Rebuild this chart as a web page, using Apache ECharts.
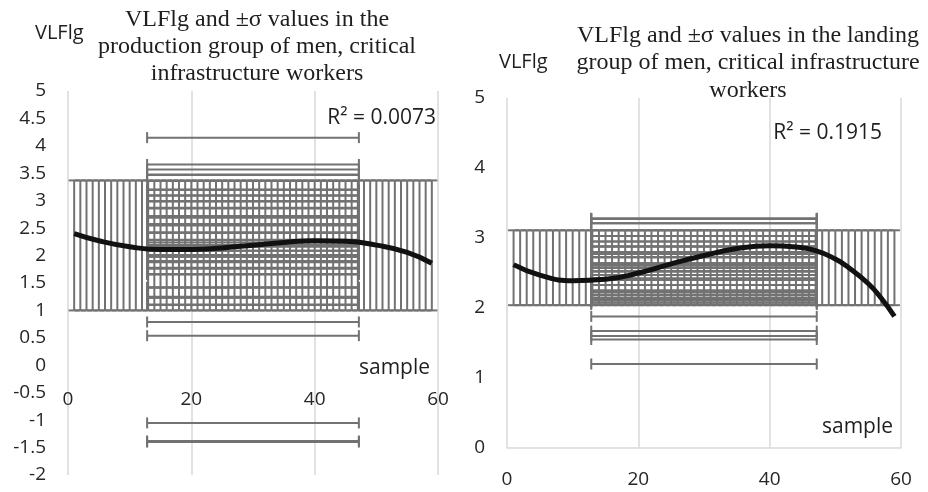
<!DOCTYPE html>
<html>
<head>
<meta charset="utf-8">
<script src="https://cdn.jsdelivr.net/npm/echarts@6/dist/echarts.min.js"></script>
<style>
  html, body { margin: 0; padding: 0; background: #fff; }
  #diogram { width: 928px; height: 492px; }
</style>
</head>
<body>
<div id="diogram"></div>
<script>
// sample numbers (x of every point)
let sampleX = [1, 2, 3, 4, 5, 6, 7, 8, 9, 10, 11, 12, 13, 14, 15, 16, 17, 18, 19, 20,
    21, 22, 23, 24, 25, 26, 27, 28, 29, 30, 31, 32, 33, 34, 35, 36, 37, 38, 39, 40,
    41, 42, 43, 44, 45, 46, 47, 48, 49, 50, 51, 52, 53, 54, 55, 56, 57, 58, 59];

// mean of x and its sigma
let xMean = 30;
let xSigma = 17.17;

// production group
let prodY = [4.15, 3.66, 3.57, 3.48, 3.47, 3.36, 3.20, 3.20, 3.20, 3.10, 3.09, 2.99, 2.99, 2.99,
    2.87, 2.86, 2.72, 2.72, 2.71, 2.69, 2.57, 2.57, 2.57, 2.55, 2.42, 2.42, 2.41, 2.29, 2.28,
    2.24, 2.19, 2.19, 2.19, 2.16, 2.09, 2.09, 2.01, 1.98, 1.98, 1.90, 1.88, 1.78, 1.76, 1.66,
    1.66, 1.66, 1.42, 1.42, 1.42, 1.25, 1.23, 1.23, 1.11, 1.10, 0.79, 0.54, -1.05, -1.38, -1.40];
let prodMean = 2.185;
let prodSigma = 1.185;
let prodTrendX = [1, 5, 10, 15, 20, 25, 30, 35, 40, 45, 50, 55, 59];
let prodTrendY = [2.40, 2.27, 2.16, 2.11, 2.11, 2.14, 2.19, 2.24, 2.27, 2.26, 2.19, 2.06, 1.86];
let prodR2 = 'R² = 0.0073';

// landing group
let landY = [3.28, 3.28, 3.27, 3.21, 3.21, 3.11, 3.03, 3.03, 3.03, 2.95, 2.95, 2.88, 2.88, 2.88,
    2.80, 2.80, 2.79, 2.77, 2.77, 2.73, 2.73, 2.73, 2.72, 2.64, 2.64, 2.61, 2.61, 2.61, 2.58,
    2.57, 2.53, 2.52, 2.52, 2.47, 2.47, 2.47, 2.42, 2.42, 2.40, 2.33, 2.33, 2.33, 2.25, 2.25,
    2.23, 2.19, 2.19, 2.19, 2.15, 2.13, 2.11, 2.08, 2.08, 2.05, 1.88, 1.67, 1.60, 1.55, 1.20];
let landMean = 2.575;
let landSigma = 0.535;
let landTrendX = [1, 5, 10, 15, 20, 25, 30, 35, 40, 44, 47, 50, 52, 55, 57, 59];
let landTrendY = [2.62, 2.47, 2.39, 2.41, 2.50, 2.63, 2.75, 2.85, 2.89, 2.87, 2.82, 2.70, 2.58, 2.35, 2.14, 1.88];
let landR2 = 'R² = 0.1915';

let barColor = '#727272';
let gridColor = '#d9d9d9';
let labelFont = '"Open Sans", sans-serif';
let titleFont = '"Liberation Serif", serif';
let cap = 5.5;

function seg(x1, y1, x2, y2) {
    return {
        type: 'line',
        shape: { x1: x1, y1: y1, x2: x2, y2: y2 },
        style: { stroke: barColor, lineWidth: 2 }
    };
}

// vertical error bar: [x, low, high]
function renderV(params, api) {
    let a = api.coord([api.value(0), api.value(1)]);
    let b = api.coord([api.value(0), api.value(2)]);
    return {
        type: 'group',
        children: [
            seg(a[0], a[1], b[0], b[1]),
            seg(a[0] - cap, a[1], a[0] + cap, a[1]),
            seg(b[0] - cap, b[1], b[0] + cap, b[1])
        ]
    };
}

// horizontal error bar: [low, high, y]
function renderH(params, api) {
    let a = api.coord([api.value(0), api.value(2)]);
    let b = api.coord([api.value(1), api.value(2)]);
    return {
        type: 'group',
        children: [
            seg(a[0], a[1], b[0], b[1]),
            seg(a[0], a[1] - cap, a[0], a[1] + cap),
            seg(b[0], b[1] - cap, b[0], b[1] + cap)
        ]
    };
}

function xAxisOpt(idx, lineShow, offset, margin) {
    return {
        type: 'value', gridIndex: idx, min: 0, max: 60, interval: 20,
        position: 'bottom', offset: offset,
        axisLine: { show: lineShow, onZero: false, lineStyle: { color: gridColor, width: 1.5 } },
        axisTick: { show: false },
        splitLine: { show: true, lineStyle: { color: gridColor, width: 1.5 } },
        axisLabel: { color: '#262626', fontSize: 19, fontFamily: labelFont, margin: margin }
    };
}

function yAxisOpt(idx, min, max, interval) {
    return {
        type: 'value', gridIndex: idx, min: min, max: max, interval: interval,
        axisLine: { show: false },
        axisTick: { show: false },
        splitLine: { show: false },
        axisLabel: { color: '#262626', fontSize: 19, fontFamily: labelFont, margin: 22 }
    };
}

function label(text, x, y, align, size, family, lh) {
    return {
        type: 'text', x: x, y: y, silent: true,
        style: {
            text: text, fill: '#1e1e1e', fontSize: size, fontFamily: family,
            textAlign: align, align: align,
            textVerticalAlign: 'middle', verticalAlign: 'middle',
            lineHeight: lh || size
        }
    };
}

let diogram = document.getElementById('diogram');
let myDiogram = echarts.init(diogram, null, { renderer: 'canvas' });

let option = {
    animation: false,
    grid: [
        { left: 68, right: 490, top: 91, bottom: 17 },
        { left: 507, right: 27, top: 98, bottom: 44 }
    ],
    // left x axis sits at y = 0: (475 - 365) px above the grid bottom
    xAxis: [xAxisOpt(0, false, -110, 25), xAxisOpt(1, true, 0, 22)],
    yAxis: [yAxisOpt(0, -2, 5, 0.5), yAxisOpt(1, 0, 5, 1)],
    graphic: [
        label('VLFlg and ±σ values in the\nproduction group of men, critical\ninfrastructure workers', 257, 47, 'center', 24, titleFont, 27),
        label('VLFlg and ±σ values in the landing\ngroup of men, critical infrastructure\nworkers', 748, 63, 'center', 24, titleFont, 27.5),
        label('VLFlg', 35, 33, 'left', 20, labelFont),
        label('VLFlg', 499, 62, 'left', 20, labelFont),
        label(prodR2, 436, 118, 'right', 21, labelFont),
        label(landR2, 882, 133, 'right', 21, labelFont),
        label('sample', 359, 368, 'left', 21, labelFont),
        label('sample', 822, 427, 'left', 21, labelFont)
    ],
    series: [
        {
            type: 'custom', xAxisIndex: 0, yAxisIndex: 0, renderItem: renderV,
            data: sampleX.map(x => [x, prodMean - prodSigma, prodMean + prodSigma])
        },
        {
            type: 'custom', xAxisIndex: 0, yAxisIndex: 0, renderItem: renderH,
            data: prodY.map(y => [xMean - xSigma, xMean + xSigma, y])
        },
        {
            type: 'line', xAxisIndex: 0, yAxisIndex: 0, smooth: true, symbol: 'none',
            lineStyle: { color: '#111', width: 5 },
            data: prodTrendX.map((x, i) => [x, prodTrendY[i]])
        },
        {
            type: 'custom', xAxisIndex: 1, yAxisIndex: 1, renderItem: renderV,
            data: sampleX.map(x => [x, landMean - landSigma, landMean + landSigma])
        },
        {
            type: 'custom', xAxisIndex: 1, yAxisIndex: 1, renderItem: renderH,
            data: landY.map(y => [xMean - xSigma, xMean + xSigma, y])
        },
        {
            type: 'line', xAxisIndex: 1, yAxisIndex: 1, smooth: true, symbol: 'none',
            lineStyle: { color: '#111', width: 5 },
            data: landTrendX.map((x, i) => [x, landTrendY[i]])
        }
    ]
};

myDiogram.setOption(option);
</script>
</body>
</html>
